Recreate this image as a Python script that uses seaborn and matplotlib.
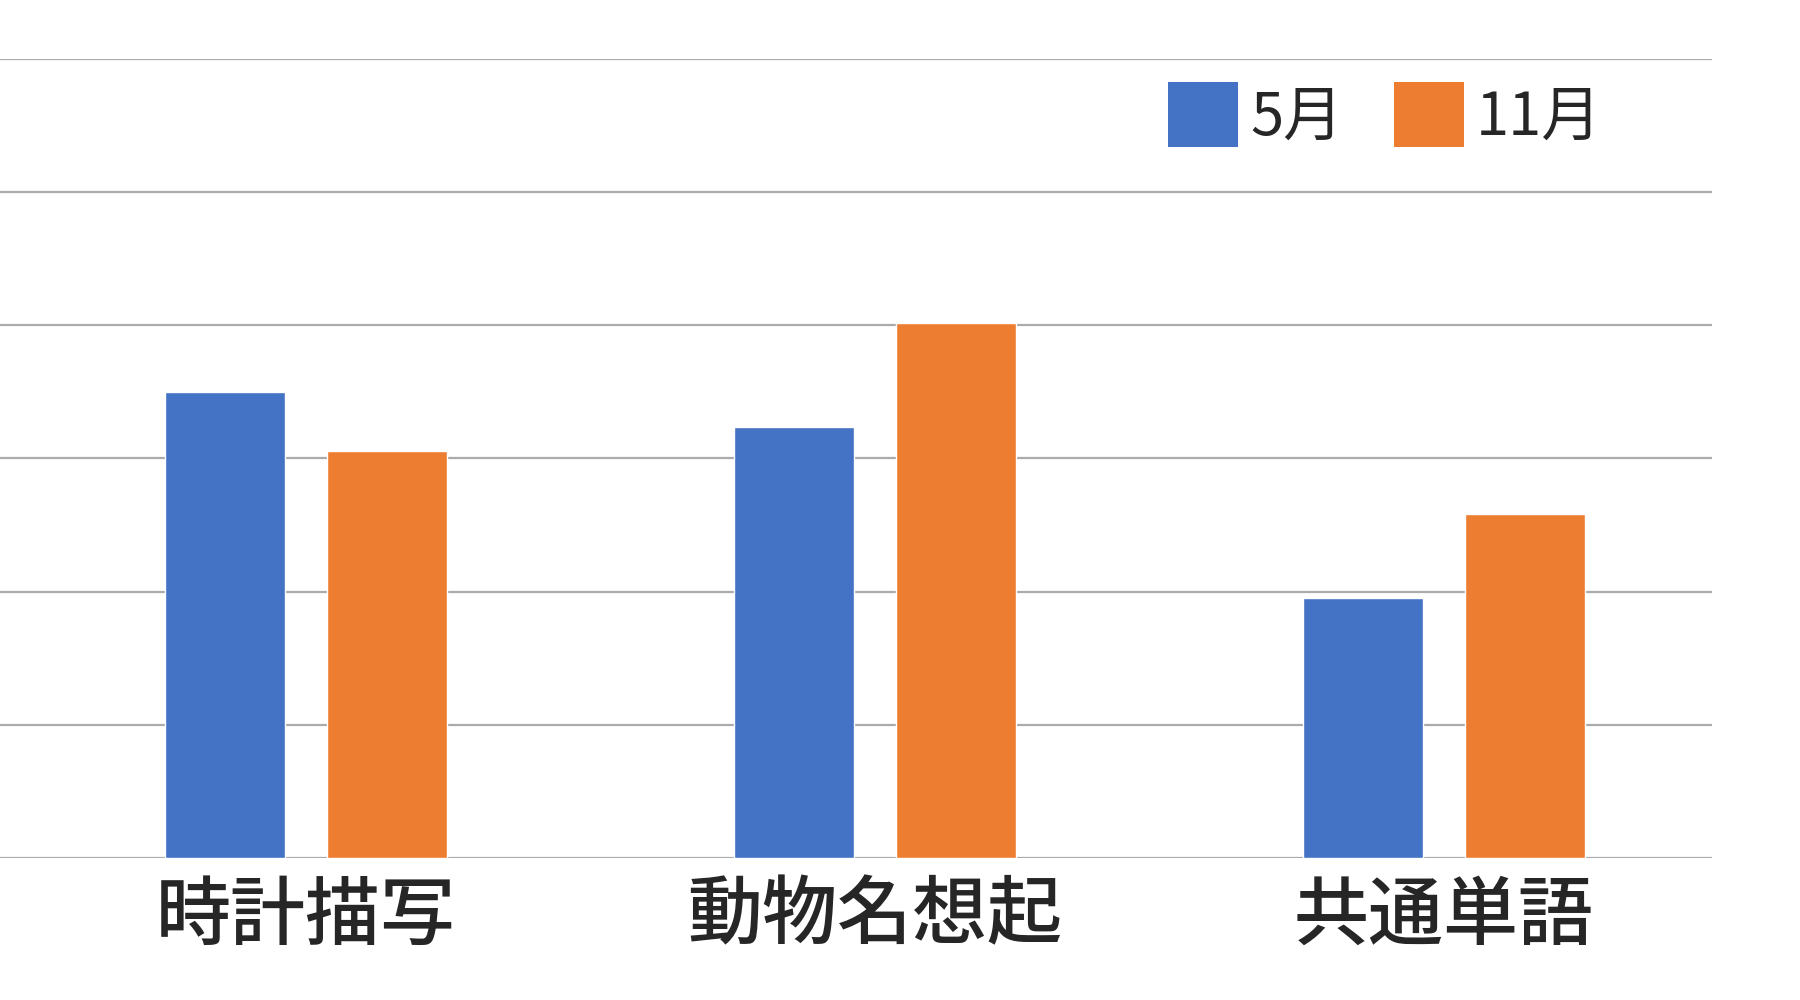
import pandas as pd
import matplotlib.pyplot as plt
import seaborn as sns
from matplotlib.patches import Patch

# データ
categories = ['時計描写', '動物名想起', '共通単語']
months = ['5月', '11月']
may_values = [3.50, 3.24, 1.95]
nov_values = [3.06, 4.02, 2.58]
colors = ['#4472C4', '#ED7D31']

data = pd.DataFrame({
    'カテゴリ': categories * 2,
    '月': [months[0]] * 3 + [months[1]] * 3,
    '値': may_values + nov_values,
})

sns.set_style('white')
plt.rcParams['font.family'] = ['Noto Sans CJK JP', 'DejaVu Sans']

fig = plt.figure(figsize=(18, 10), dpi=100)
ax = fig.add_axes([0.0, 0.142, 0.951, 0.799])

sns.barplot(data=data, x='カテゴリ', y='値', hue='月', palette=colors,
            width=0.57, gap=0.263, ax=ax, legend=False, saturation=1)

ax.set_xlim(-0.538, 2.471)
ax.set_ylim(0, 6)
ax.set_yticks(range(0, 7))
ax.yaxis.grid(True, color='#ABABAB', linewidth=1.6)
ax.set_axisbelow(True)
for s in ax.spines.values():
    s.set_visible(False)
ax.axhline(0, color='#ABABAB', linewidth=2.0, zorder=0.5)
ax.tick_params(axis='y', left=False, labelleft=False)
ax.tick_params(axis='x', bottom=False, pad=12, labelsize=54)
for lbl in ax.get_xticklabels():
    lbl.set_fontweight('medium')
ax.set_xlabel('')
ax.set_ylabel('')

# 凡例
handles = [Patch(facecolor=c, edgecolor='none') for c in colors]
fig.legend(handles, months, loc='upper left', bbox_to_anchor=(0.649, 0.918),
           ncol=2, frameon=False, fontsize=43, handlelength=1.17,
           handleheight=1.3, handletextpad=0.2, columnspacing=0.85,
           borderpad=0, borderaxespad=0)

plt.savefig('out.png', dpi=100)
